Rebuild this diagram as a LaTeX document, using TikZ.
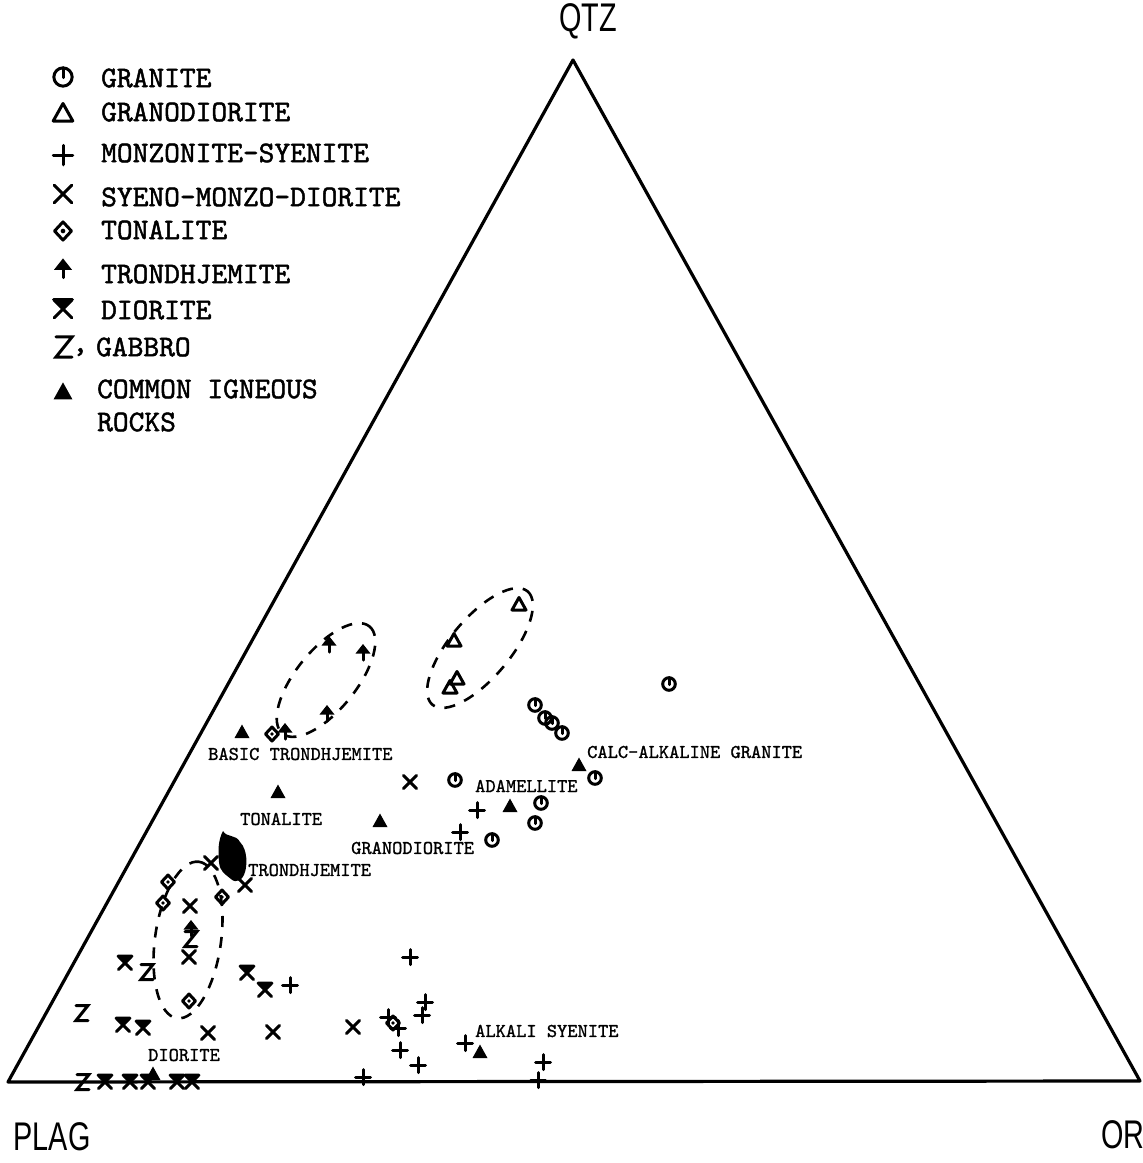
\documentclass[tikz,border=0pt]{standalone}
\usepackage{fontspec}
\newfontfamily\axfont{Liberation Sans}
\newfontfamily\legfont{lmmono10-regular.otf}[FakeBold=1.6]
\newfontfamily\labfont{lmmono10-regular.otf}[FakeBold=1.2]
\tikzset{
  sym/.style={line width=3pt, line cap=round, line join=round},
  pgran/.pic={\draw[sym] (0,0) circle (6.3); \draw[sym] (0,-6.3)--(0,0.5);},
  ptri/.pic={\draw[sym] (0,-7.5)--(7,5)--(-7,5)--cycle;},
  pplus/.pic={\draw[sym] (-7.5,0)--(7.5,0) (0,-7.5)--(0,7.5);},
  pcross/.pic={\draw[sym] (-6.5,-6.5)--(6.5,6.5) (-6.5,6.5)--(6.5,-6.5);},
  pdiam/.pic={\draw[sym] (0,-7)--(6.5,0)--(0,7)--(-6.5,0)--cycle; \fill (0,0) circle (1.8);},
  pspade/.pic={\fill[line join=round] (0,-8)--(7.5,1.5)--(-7.5,1.5)--cycle; \draw[sym] (0,0)--(0,8);},
  pdior/.pic={\draw[sym] (-6.5,-6.5)--(6.5,6.5) (-6.5,6.5)--(6.5,-6.5) (-7,-7)--(7,-7); \fill (-6,-7)--(6,-7)--(0,-1)--cycle;},
  pgab/.pic={\draw[sym, line join=miter] (-6,-7.5)--(6,-7.5)--(-6,7.5)--(6,7.5);},
  pcom/.pic={\fill[line join=round] (0,-8.5)--(7.5,5)--(-7.5,5)--cycle;},
  leg/.style={font=\fontsize{30}{32}\selectfont\legfont, anchor=west, inner sep=0pt},
  lab/.style={font=\fontsize{19.5}{21}\selectfont\labfont, anchor=west, inner sep=0pt},
  ax/.style={font=\fontsize{40}{42}\selectfont\axfont, inner sep=0pt},
  hull/.style={line width=2.6pt, dash pattern=on 11pt off 10pt},
}
\begin{document}
\begin{tikzpicture}[x=1pt, y=-1pt]
\useasboundingbox (0,0) rectangle (1143,1163);
% triangle
\coordinate (cplag) at (8,1082);
\coordinate (cqtz) at (573,60);
\coordinate (cor) at (1140,1081);
\draw[line width=3.2pt, line join=round] (cplag) -- (cqtz) -- (cor) -- cycle;
% axis labels
\node[ax] (qtz) at (588,21) {\scalebox{0.72}[1]{QTZ}};
\node[ax] (plag) at (52,1137) {\scalebox{0.72}[1]{PLAG}};
\node[ax] (or) at (1123,1135) {\scalebox{0.72}[1]{OR}};
% legend
\pic[scale=1.45] at (63,77) {pgran};
\node[leg] (lg1) at (101,78) {GRANITE};
\pic[scale=1.4] at (63,114) {ptri};
\node[leg] (lg2) at (101,112) {GRANODIORITE};
\pic[scale=1.3] at (63,155) {pplus};
\node[leg] (lg3) at (101,153) {MONZONITE-SYENITE};
\pic[scale=1.35] at (63,194) {pcross};
\node[leg] (lg4) at (101,197) {SYENO-MONZO-DIORITE};
\pic[scale=1.3] at (63,231) {pdiam};
\node[leg] (lg5) at (101,230) {TONALITE};
\pic[scale=1.2] at (63,268) {pspade};
\node[leg] (lg6) at (101,274) {TRONDHJEMITE};
\pic[scale=1.35] at (63,309) {pdior};
\node[leg] (lg7) at (101,310) {DIORITE};
\pic[scale=1.35] at (64,347) {pgab};
\node[leg] (lgc) at (72,352) {,};
\node[leg] (lg8) at (96,347) {GABBRO};
\pic[scale=1.25] at (63,393) {pcom};
\node[leg] (lg9) at (97,389) {COMMON IGNEOUS};
\node[leg] (lg10) at (97,422) {ROCKS};
% dashed fields
\draw[hull] (326,680) ellipse [x radius=69, y radius=30, rotate=51];
\draw[hull] (480,648) ellipse [x radius=74, y radius=30, rotate=50];
\draw[hull] (188,940) ellipse [x radius=79, y radius=33, rotate=82];
% granite
\foreach \p in {(669,684),(535,705),(545,718),(552,723),(562,733),(595,778),(541,803),(535,823),(492,840),(455,780)}
  \pic at \p {pgran};
% granodiorite
\foreach \p in {(519,605),(454,641),(457,679),(450,688)}
  \pic at \p {ptri};
% monzonite-syenite
\foreach \p in {(477,810),(460,832),(410,957),(290,985),(425,1002),(422,1015),(388,1017),(398,1028),(400,1050),(418,1065),(363,1077),(465,1043),(543,1062),(538,1080)}
  \pic at \p {pplus};
% syeno-monzo-diorite
\foreach \p in {(410,782),(211,863),(245,885),(190,906),(189,957),(208,1033),(273,1032),(353,1027)}
  \pic at \p {pcross};
% tonalite
\foreach \p in {(168,882),(163,903),(222,897),(189,1001),(272,734),(393,1023)}
  \pic at \p {pdiam};
% trondhjemite
\foreach \p in {(329,644),(363,652),(327,713),(285,731),(191,928)}
  \pic at \p {pspade};
% diorite
\foreach \p in {(125,963),(247,973),(265,990),(123,1025),(143,1028),(105,1082),(130,1082),(148,1082),(177,1082),(192,1082)}
  \pic at \p {pdior};
% gabbro
\foreach \p in {(147,972),(82,1013),(83,1082),(191,939)}
  \pic at \p {pgab};
% common igneous rocks
\foreach \p in {(242,733),(278,793),(380,822),(510,807),(579,766),(480,1053),(153,1075)}
  \pic at \p {pcom};
% trondhjemite blob
\fill (223,831) .. controls (227,838) and (236,834) .. (240,842)
  .. controls (248,850) and (247,866) .. (245,872)
  .. controls (243,880) and (236,884) .. (231,879)
  .. controls (225,874) and (220,872) .. (219,862)
  .. controls (218,852) and (218,840) .. (223,831) -- cycle;
% rock labels
\node[lab] (l1) at (208,754) {BASIC TRONDHJEMITE};
\node[lab] (l2) at (240,819) {TONALITE};
\node[lab] (l3) at (351,848) {GRANODIORITE};
\node[lab] (l4) at (248,870) {TRONDHJEMITE};
\node[lab] (l5) at (475,786) {ADAMELLITE};
\node[lab] (l6) at (587,752) {CALC-ALKALINE GRANITE};
\node[lab] (l7) at (475,1031) {ALKALI SYENITE};
\node[lab] (l8) at (148,1055) {DIORITE};
\end{tikzpicture}
\end{document}
